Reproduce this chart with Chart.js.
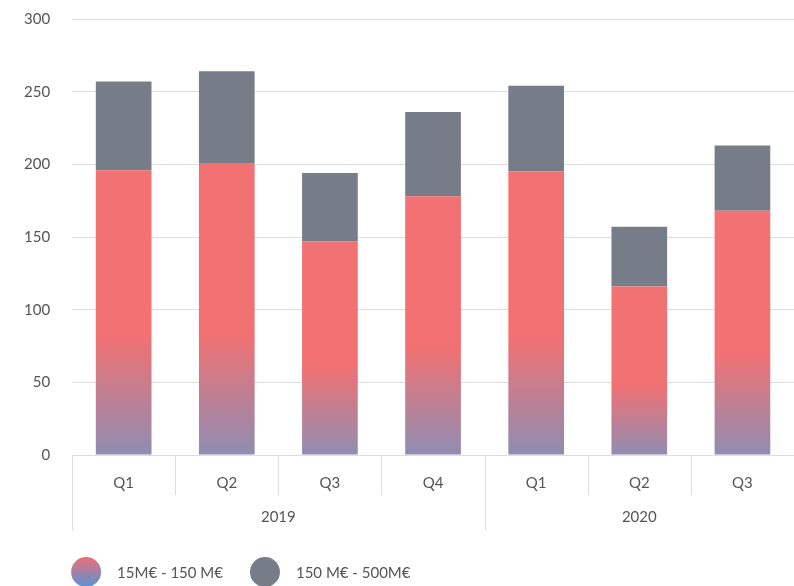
<!DOCTYPE html>
<html>
<head>
<meta charset="utf-8">
<script src="https://cdn.jsdelivr.net/npm/chart.js@4"></script>
<style>
  html, body { margin: 0; padding: 0; background: #fff; }
  #wrap { width: 794px; height: 586px; }
</style>
</head>
<body>
<div id="wrap"><canvas id="chart-deals"></canvas></div>
<script>
const quarters = ['Q1', 'Q2', 'Q3', 'Q4', 'Q1', 'Q2', 'Q3'];
const years = ['2019', '2019', '2019', '2019', '2020', '2020', '2020'];
const smallDeals = [196, 201, 147, 178, 195, 116, 168];
const largeDeals = [61, 63, 47, 58, 59, 41, 45];
const yTicks = [0, 50, 100, 150, 200, 250, 300];
const seriesNames = ['15M€ - 150 M€', '150 M€ - 500M€'];

const RED = '#f27172';
const PURPLE = '#8f8db2';
const GREY = '#777d88';
const LINE = '#dddddd';
const TEXT = '#555555';
const FONT = 'Lato, "Open Sans", sans-serif';
const LEGEND_TOP = ['#ec6f76', GREY];
const LEGEND_BOTTOM = ['#5a94d6', GREY];

function redFill(ctx) {
  const chart = ctx.chart;
  if (!chart.chartArea || ctx.type !== 'data') return RED;
  const y = chart.scales.y;
  const top = y.getPixelForValue(ctx.raw);
  const bottom = y.getPixelForValue(0);
  const g = chart.ctx.createLinearGradient(0, top, 0, bottom);
  g.addColorStop(0, RED);
  g.addColorStop(0.58, RED);
  g.addColorStop(1, PURPLE);
  return g;
}

// year row + separators under the quarter labels
const yearRow = {
  id: 'yearRow',
  afterDraw(chart) {
    const c = chart.ctx;
    const x = chart.scales.x;
    const base = x.top;
    c.save();
    c.strokeStyle = LINE;
    c.lineWidth = 1;
    for (let i = 0; i <= quarters.length; i++) {
      const px = Math.round(x.getPixelForValue(i - 0.5)) + 0.5;
      const yearEdge = i === 0 || i === quarters.length || years[i] !== years[i - 1];
      c.beginPath();
      c.moveTo(px, base);
      c.lineTo(px, base + (yearEdge ? 75 : 40));
      c.stroke();
    }
    c.fillStyle = TEXT;
    c.font = '15px ' + FONT;
    c.textAlign = 'center';
    c.textBaseline = 'middle';
    const groups = [...new Set(years)];
    groups.forEach(yr => {
      const first = years.indexOf(yr);
      const last = years.lastIndexOf(yr);
      c.fillText(yr, x.getPixelForValue((first + last) / 2), base + 62);
    });
    c.restore();
  }
};

// round gradient swatches at the bottom
const dotLegend = {
  id: 'dotLegend',
  afterDraw(chart) {
    const c = chart.ctx;
    const cy = 572;
    let left = chart.chartArea.left - 1;
    c.save();
    c.font = '15px ' + FONT;
    c.textBaseline = 'middle';
    c.textAlign = 'left';
    chart.data.datasets.forEach((ds, i) => {
      const g = c.createLinearGradient(0, cy - 15, 0, cy + 15);
      g.addColorStop(0, LEGEND_TOP[i]);
      g.addColorStop(1, LEGEND_BOTTOM[i]);
      c.fillStyle = g;
      c.beginPath();
      c.arc(left + 15, cy, 15, 0, Math.PI * 2);
      c.fill();
      c.fillStyle = TEXT;
      c.fillText(ds.label, left + 46, cy + 1);
      left += 46 + c.measureText(ds.label).width + 27;
    });
    c.restore();
  }
};

new Chart(document.getElementById('chart-deals'), {
  type: 'bar',
  data: {
    labels: quarters,
    datasets: [
      { label: seriesNames[0], data: smallDeals, backgroundColor: redFill },
      { label: seriesNames[1], data: largeDeals, backgroundColor: GREY }
    ]
  },
  options: {
    responsive: true,
    maintainAspectRatio: false,
    animation: false,
    datasets: { bar: { categoryPercentage: 0.6, barPercentage: 0.9 } },
    layout: { padding: { top: 19, right: 0, left: 2, bottom: 30 } },
    scales: {
      x: {
        stacked: true,
        grid: { display: false },
        border: { display: true, color: LINE },
        ticks: { color: TEXT, font: { family: FONT, size: 15 }, padding: 11 },
        afterFit(scale) { scale.height = 101; }
      },
      y: {
        stacked: true,
        min: yTicks[0],
        max: yTicks[yTicks.length - 1],
        grid: { color: LINE, drawTicks: false },
        border: { display: false },
        ticks: {
          stepSize: yTicks[1] - yTicks[0],
          color: TEXT,
          font: { family: FONT, size: 15 },
          padding: 22
        },
        afterFit(scale) { scale.paddingTop = 9; }
      }
    },
    plugins: {
      tooltip: { enabled: false },
      legend: { display: false }
    }
  },
  plugins: [yearRow, dotLegend]
});
</script>
</body>
</html>
